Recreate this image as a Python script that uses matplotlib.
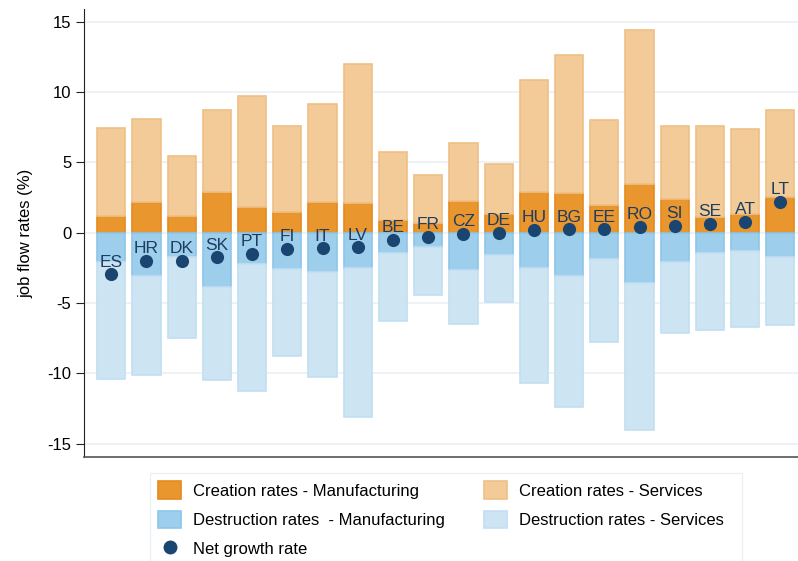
import numpy as np
import matplotlib.pyplot as plt
from matplotlib.patches import Patch
from matplotlib.lines import Line2D

plt.rcParams['font.family'] = ['Liberation Sans', 'DejaVu Sans']
plt.rcParams['axes.unicode_minus'] = False

countries = ['ES', 'HR', 'DK', 'SK', 'PT', 'FI', 'IT', 'LV', 'BE', 'FR',
             'CZ', 'DE', 'HU', 'BG', 'EE', 'RO', 'SI', 'SE', 'AT', 'LT']
# total creation rate (top of bar) and manufacturing part
creation_total = [7.44, 8.10, 5.44, 8.72, 9.71, 7.58, 9.14, 12.02, 5.72, 4.09,
                  6.37, 4.87, 10.85, 12.63, 8.00, 14.41, 7.58, 7.55, 7.36, 8.72]
creation_mfg = [1.21, 2.16, 1.21, 2.88, 1.85, 1.45, 2.21, 2.12, 0.90, 0.67,
                2.24, 1.35, 2.92, 2.85, 2.00, 3.45, 2.42, 1.14, 1.31, 2.52]
destruction_total = [-10.37, -10.11, -7.48, -10.44, -11.25, -8.76, -10.26, -13.10, -6.27, -4.39,
                     -6.46, -4.91, -10.66, -12.39, -7.74, -14.00, -7.10, -6.88, -6.67, -6.53]
destruction_mfg = [-2.07, -3.06, -1.75, -3.84, -2.25, -2.56, -2.78, -2.49, -1.47, -1.02,
                   -2.66, -1.57, -2.54, -3.04, -1.90, -3.56, -2.11, -1.47, -1.33, -1.75]
net_growth = [-2.96, -2.02, -1.99, -1.75, -1.49, -1.16, -1.11, -1.04, -0.52, -0.28,
              -0.07, 0.01, 0.19, 0.24, 0.24, 0.43, 0.48, 0.64, 0.74, 2.16]

c_mfg = '#e9962f'
c_mfg_e = '#e5891c'
c_svc = '#f2cb98'
c_svc_e = '#efc086'
d_mfg = '#9dcfec'
d_mfg_e = '#8cc6ea'
d_svc = '#cde4f3'
d_svc_e = '#c2def2'
dot_c = '#1a4570'

x = np.arange(len(countries))
cm = np.array(creation_mfg)
cs = np.array(creation_total) - cm
dm = np.array(destruction_mfg)
ds = np.array(destruction_total) - dm

fig = plt.figure(figsize=(7.98, 5.61), dpi=100)
ax = fig.add_axes([0.105, 0.185, 0.895, 0.799])

w = 0.8
ax.bar(x, cm, w, color=c_mfg, edgecolor=c_mfg_e, linewidth=1.2, zorder=2)
ax.bar(x, cs, w, bottom=cm, color=c_svc, edgecolor=c_svc_e, linewidth=1.2, zorder=2)
ax.bar(x, dm, w, color=d_mfg, edgecolor=d_mfg_e, linewidth=1.2, zorder=2)
ax.bar(x, ds, w, bottom=dm, color=d_svc, edgecolor=d_svc_e, linewidth=1.2, zorder=2)
ax.scatter(x, net_growth, s=90, color=dot_c, zorder=4, linewidths=0)
for xi, yi, lab in zip(x, net_growth, countries):
    ax.annotate(lab, (xi, yi), xytext=(0, 3.5), textcoords='offset points',
                ha='center', va='bottom', fontsize=12.5, color='#1f3d60', zorder=5)

ax.set_xlim(-0.78, 19.5)
ax.set_ylim(-15.95, 15.9)
ax.set_yticks([-15, -10, -5, 0, 5, 10, 15])
ax.set_xticks([])
ax.grid(axis='y', color='#eaf0f5', linewidth=1.2, zorder=0)
ax.set_axisbelow(True)
for s in ['top', 'right']:
    ax.spines[s].set_visible(False)
ax.spines['left'].set_color('#222222')
ax.spines['bottom'].set_color('#555555')
ax.spines['bottom'].set_linewidth(1.2)
ax.tick_params(axis='y', labelsize=12, length=6, color='#222222', pad=3)
ax.set_ylabel('job flow rates (%)', fontsize=12, labelpad=10)

handles = [Patch(facecolor=c_mfg, edgecolor=c_mfg_e, linewidth=1.2),
           Patch(facecolor=d_mfg, edgecolor=d_mfg_e, linewidth=1.2),
           Line2D([], [], marker='o', linestyle='none', color=dot_c, markersize=9),
           Patch(facecolor=c_svc, edgecolor=c_svc_e, linewidth=1.2),
           Patch(facecolor=d_svc, edgecolor=d_svc_e, linewidth=1.2)]
labels = ['Creation rates - Manufacturing', 'Destruction rates  - Manufacturing',
          'Net growth rate', 'Creation rates - Services  ', 'Destruction rates - Services  ']
leg = fig.legend(handles, labels, ncol=2, loc='upper left', bbox_to_anchor=(0.188, 0.157),
                 fontsize=12, frameon=True, fancybox=False, handlelength=1.38,
                 handleheight=1.25, labelspacing=0.7, columnspacing=2.35,
                 handletextpad=0.72, borderpad=0.5, borderaxespad=0)
leg.get_frame().set_edgecolor('#e6edf3')
leg.get_frame().set_linewidth(1.0)

fig.savefig('out.png', dpi=100)
